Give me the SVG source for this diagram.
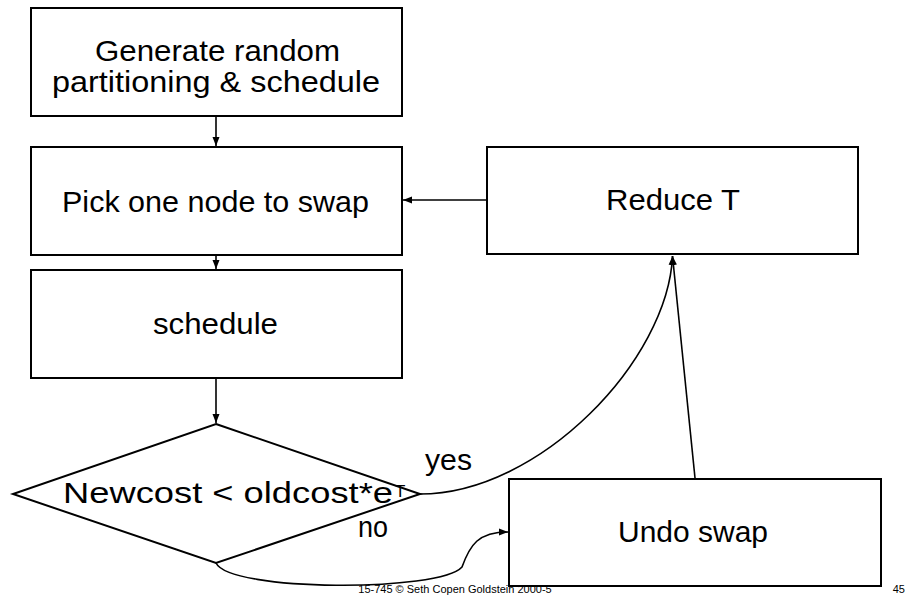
<svg xmlns="http://www.w3.org/2000/svg" width="909" height="597" viewBox="0 0 909 597">
<style>
.box{fill:#fff;stroke:#000;stroke-width:2}
.lbl{font-family:"Comic Sans MS","Liberation Sans",sans-serif;font-size:29px;fill:#000}
.sup{font-family:"Comic Sans MS","Liberation Sans",sans-serif;font-size:17px;fill:#000}
.edge{fill:none;stroke:#000;stroke-width:1.6}
.foot{font-family:"Comic Sans MS","Liberation Sans",sans-serif;font-size:11px;fill:#000}
</style>
<defs>
<marker id="ah" markerUnits="userSpaceOnUse" markerWidth="10" markerHeight="8" refX="9" refY="4" orient="auto">
<path d="M0,0.5 L9,4 L0,7.5 z" fill="#000"/>
</marker>
</defs>
<rect width="909" height="597" fill="#fff"/>
<g id="edges">
<line class="edge" x1="216" y1="116" x2="216" y2="146" marker-end="url(#ah)"/>
<line class="edge" x1="216" y1="255" x2="216" y2="269" marker-end="url(#ah)"/>
<line class="edge" x1="216" y1="378" x2="216" y2="423" marker-end="url(#ah)"/>
<line class="edge" x1="487" y1="200" x2="403" y2="200" marker-end="url(#ah)"/>
<line class="edge" x1="695" y1="478" x2="672.5" y2="256" marker-end="url(#ah)"/>
<path class="edge" d="M420,494 C540,494 668,360 672.5,256" marker-end="url(#ah)"/>
<path class="edge" d="M216,563 C230,592 440,592 462,567 C470,545 478,532 508,532" marker-end="url(#ah)"/>
</g>
<g id="n-generate">
<rect class="box" x="31" y="8" width="371" height="108"/>
<text class="lbl" x="95" y="61" textLength="245" lengthAdjust="spacingAndGlyphs">Generate random</text>
<text class="lbl" x="52" y="92" textLength="328" lengthAdjust="spacingAndGlyphs">partitioning &amp; schedule</text>
</g>
<g id="n-pick">
<rect class="box" x="31" y="147" width="371" height="108"/>
<text class="lbl" x="62" y="212" textLength="307" lengthAdjust="spacingAndGlyphs">Pick one node to swap</text>
</g>
<g id="n-schedule">
<rect class="box" x="31" y="270" width="371" height="108"/>
<text class="lbl" x="153" y="334" textLength="125" lengthAdjust="spacingAndGlyphs">schedule</text>
</g>
<g id="n-reduce">
<rect class="box" x="487" y="147" width="371" height="107"/>
<text class="lbl" x="606" y="210" textLength="134" lengthAdjust="spacingAndGlyphs">Reduce T</text>
</g>
<g id="n-decision">
<polygon class="box" points="216,424 420,494 216,563 13,494"/>
<text class="lbl" x="63" y="503" textLength="330" lengthAdjust="spacingAndGlyphs">Newcost &lt; oldcost*e</text>
<text class="sup" x="395" y="497">T</text>
</g>
<g id="n-undo">
<rect class="box" x="509" y="479" width="372" height="107"/>
<text class="lbl" x="618" y="542" textLength="150" lengthAdjust="spacingAndGlyphs">Undo swap</text>
</g>
<g id="labels">
<text class="lbl" x="425" y="470" textLength="47" lengthAdjust="spacingAndGlyphs">yes</text>
<text class="lbl" x="358" y="537" textLength="30" lengthAdjust="spacingAndGlyphs">no</text>
<text class="foot" x="455" y="593" text-anchor="middle">15-745 © Seth Copen Goldstein 2000-5</text>
<text class="foot" x="905" y="593" text-anchor="end">45</text>
</g>
</svg>
